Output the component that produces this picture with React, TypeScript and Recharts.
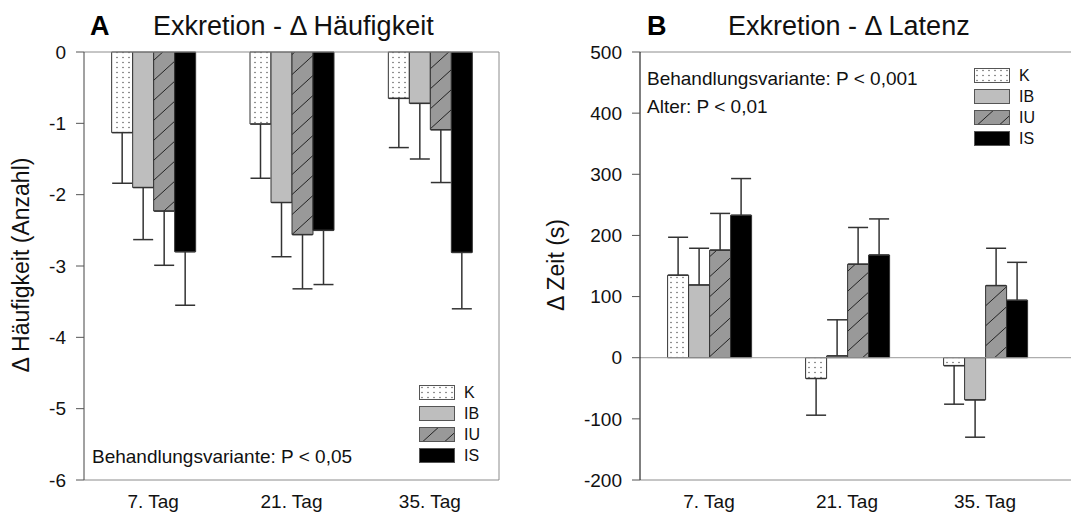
import { BarChart, Bar, XAxis, YAxis, ErrorBar, ReferenceLine, Legend } from "recharts";

const categories = ["7. Tag", "21. Tag", "35. Tag"];
const groups = ["K", "IB", "IU", "IS"];

// A: Exkretion - Δ Häufigkeit (means, one-sided SE)
const haeufK = [-1.13, -1.01, -0.65];
const haeufIB = [-1.9, -2.11, -0.72];
const haeufIU = [-2.23, -2.56, -1.09];
const haeufIS = [-2.8, -2.5, -2.81];
const haeufSeK = [0.71, 0.76, 0.69];
const haeufSeIB = [0.73, 0.76, 0.78];
const haeufSeIU = [0.76, 0.76, 0.74];
const haeufSeIS = [0.75, 0.76, 0.79];
const ticksA = [0, -1, -2, -3, -4, -5, -6];

// B: Exkretion - Δ Latenz
const latK = [135, -34, -13];
const latIB = [119, 3, -69];
const latIU = [176, 153, 118];
const latIS = [233, 168, 94];
const latSeK = [62, 60, 63];
const latSeIB = [60, 59, 61];
const latSeIU = [60, 60, 61];
const latSeIS = [60, 59, 62];
const ticksB = [500, 400, 300, 200, 100, 0, -100, -200];

const oneSided = (v: number, se: number) => (v < 0 ? [se, 0] : [0, se]);

function buildRows(vals: number[][], ses: number[][]) {
  return categories.map((name, i) => {
    const row: any = { name };
    groups.forEach((g, k) => {
      row[g] = vals[k][i];
      row[g + "_err"] = oneSided(vals[k][i], ses[k][i]);
    });
    return row;
  });
}

const dataA = buildRows([haeufK, haeufIB, haeufIU, haeufIS], [haeufSeK, haeufSeIB, haeufSeIU, haeufSeIS]);
const dataB = buildRows([latK, latIB, latIU, latIS], [latSeK, latSeIB, latSeIU, latSeIS]);

const fills: Record<string, string> = { K: "url(#dots)", IB: "#bebebe", IU: "url(#hatch)", IS: "#000" };

const font = "'Liberation Sans', Arial, sans-serif";
const frame = "#8c8c8c";

function LegendBoxes() {
  return (
    <svg width={70} height={84}>
      {groups.map((g, i) => (
        <g key={g}>
          <rect x={0.5} y={i * 21 + 0.5} width={35} height={14} fill={fills[g]} stroke="#555" />
          <text x={45} y={i * 21 + 13} fontSize={16} fill="#111" fontFamily={font}>{g}</text>
        </g>
      ))}
    </svg>
  );
}

function bars() {
  return groups.map((g) => (
    <Bar key={g} dataKey={g} name={g} fill={fills[g]} stroke="#333" strokeWidth={1} isAnimationActive={false}>
      <ErrorBar dataKey={g + "_err"} width={10} stroke="#333" strokeWidth={1.5} direction="y" />
    </Bar>
  ));
}

const tickStyle = { fontSize: 19, fill: "#111", fontFamily: font };

export default function App() {
  return (
    <div style={{ position: "absolute", left: 0, top: 0, width: 1071, height: 516, background: "#fff", fontFamily: font }}>
      <div style={{ position: "absolute", left: 0, top: 0 }}>
        <BarChart width={520} height={516} data={dataA} margin={{ top: 52, right: 20, bottom: 0, left: 0 }} barCategoryGap="20%" barGap={0}>
          <XAxis dataKey="name" height={36} axisLine={{ stroke: frame }} tickLine={false} tickSize={0} tickMargin={15} tick={tickStyle} />
          <YAxis domain={[-6, 0]} ticks={ticksA} interval={0} width={84} axisLine={{ stroke: "#444" }} tickLine={{ stroke: "#555" }} tickSize={8} tickMargin={10} tick={tickStyle} />
          <YAxis yAxisId="frame" orientation="right" domain={[0, 1]} width={1} tick={false} tickLine={false} axisLine={{ stroke: frame }} />
          <ReferenceLine y={0} stroke={frame} />
          {bars()}
          <Legend layout="vertical" align="center" verticalAlign="middle" content={() => <LegendBoxes />} wrapperStyle={{ position: "absolute", left: 419, top: 385, width: 70 }} />
        </BarChart>
      </div>
      <div style={{ position: "absolute", left: 530, top: 0 }}>
        <BarChart width={541} height={516} data={dataB} margin={{ top: 52, right: 0, bottom: 0, left: 0 }} barCategoryGap="20%" barGap={0}>
          <XAxis dataKey="name" height={36} padding={{ left: 0, right: 17 }} axisLine={{ stroke: frame }} tickLine={false} tickSize={0} tickMargin={15} tick={tickStyle} />
          <YAxis domain={[-200, 500]} ticks={ticksB} interval={0} width={110} axisLine={{ stroke: "#000" }} tickLine={{ stroke: "#555" }} tickSize={8} tickMargin={10} tick={tickStyle} />
          <ReferenceLine y={500} stroke={frame} />
          <ReferenceLine y={0} stroke="#999" />
          {bars()}
          <Legend layout="vertical" align="center" verticalAlign="middle" content={() => <LegendBoxes />} wrapperStyle={{ position: "absolute", left: 444, top: 68, width: 70 }} />
        </BarChart>
      </div>
      <svg width={1071} height={516} style={{ position: "absolute", left: 0, top: 0, pointerEvents: "none" }}>
        <defs>
          <pattern id="dots" patternUnits="userSpaceOnUse" width={6} height={5}>
            <rect width={6} height={5} fill="#fff" />
            <circle cx={3} cy={2.5} r={0.8} fill="#666" />
          </pattern>
          <pattern id="hatch" patternUnits="userSpaceOnUse" width={22} height={20}>
            <rect width={22} height={20} fill="#999" />
            <line x1={0} y1={20} x2={22} y2={0} stroke="#222" strokeWidth={1} />
            <line x1={-2} y1={1.8} x2={2} y2={-1.8} stroke="#222" strokeWidth={1} />
            <line x1={20} y1={21.8} x2={24} y2={18.2} stroke="#222" strokeWidth={1} />
          </pattern>
        </defs>
        <text x={90} y={35} fontSize={27} fontWeight="bold" fill="#000">A</text>
        <text x={153} y={35} fontSize={27} fill="#111">Exkretion - Δ Häufigkeit</text>
        <text x={647} y={35} fontSize={27} fontWeight="bold" fill="#000">B</text>
        <text x={728} y={35} fontSize={27} fill="#111">Exkretion - Δ Latenz</text>
        <text transform="translate(29,265) rotate(-90)" textAnchor="middle" fontSize={23} fill="#111">Δ Häufigkeit (Anzahl)</text>
        <text transform="translate(564,265) rotate(-90)" textAnchor="middle" fontSize={23} fill="#111">Δ Zeit (s)</text>
        <text x={92} y={463} fontSize={19} fill="#111">Behandlungsvariante: P &lt; 0,05</text>
        <text x={647} y={85} fontSize={19} fill="#111">Behandlungsvariante: P &lt; 0,001</text>
        <text x={647} y={113} fontSize={19} fill="#111">Alter: P &lt; 0,01</text>
      </svg>
    </div>
  );
}
